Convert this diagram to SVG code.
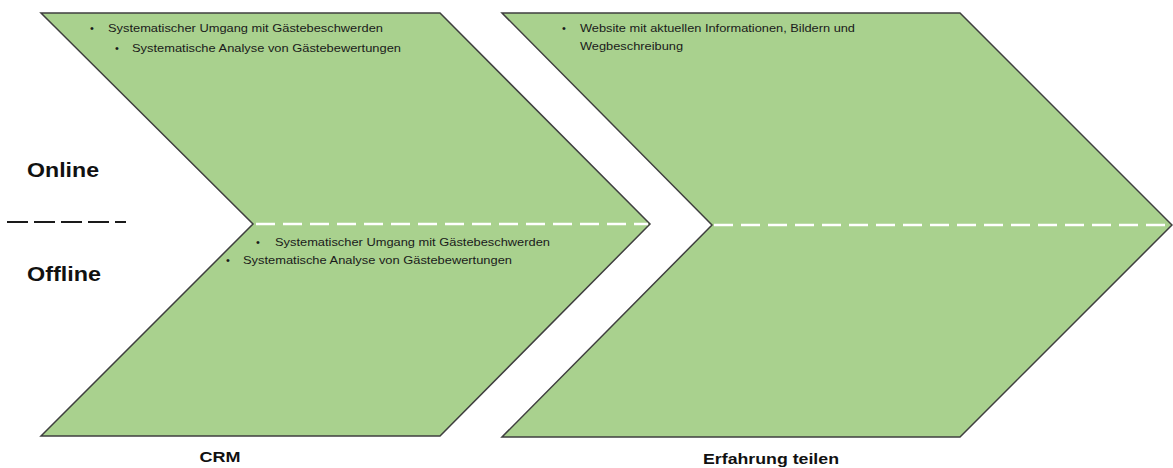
<svg xmlns="http://www.w3.org/2000/svg" width="1173" height="468" viewBox="0 0 1173 468">
<style>
.chev{fill:#A9D18E;stroke:#3f3f3f;stroke-width:1.5;stroke-linejoin:miter}
.wdash{stroke:#ffffff;stroke-width:2.5;stroke-dasharray:19 8;fill:none}
.bdash{stroke:#1a1a1a;stroke-width:2;stroke-dasharray:21 6;fill:none}
.sm{font-family:"Liberation Sans",Arial,sans-serif;font-size:11px;fill:#1a1a1a}
.big{font-family:"Liberation Sans",Arial,sans-serif;font-size:19.5px;font-weight:bold;fill:#111}
.lbl{font-family:"Liberation Sans",Arial,sans-serif;font-size:15px;font-weight:bold;fill:#111}
</style>
<g id="crm">
<polygon class="chev" points="41,13 440,13 650,224 440,436 41,436 253,224"/>
<text class="sm" x="90" y="32">•</text>
<text class="sm" x="108" y="32" textLength="275" lengthAdjust="spacingAndGlyphs">Systematischer Umgang mit Gästebeschwerden</text>
<text class="sm" x="115" y="52">•</text>
<text class="sm" x="132" y="52" textLength="269" lengthAdjust="spacingAndGlyphs">Systematische Analyse von Gästebewertungen</text>
<text class="sm" x="256" y="246">•</text>
<text class="sm" x="275" y="246" textLength="275" lengthAdjust="spacingAndGlyphs">Systematischer Umgang mit Gästebeschwerden</text>
<text class="sm" x="226" y="264">•</text>
<text class="sm" x="243" y="264" textLength="269" lengthAdjust="spacingAndGlyphs">Systematische Analyse von Gästebewertungen</text>
<text class="lbl" x="220" y="462" text-anchor="middle" textLength="41" lengthAdjust="spacingAndGlyphs">CRM</text>
</g>
<g id="erfahrung">
<polygon class="chev" points="502,13 960,13 1172,225 960,437 502,437 712,225"/>
<text class="sm" x="562" y="32">•</text>
<text class="sm" x="580" y="32" textLength="275" lengthAdjust="spacingAndGlyphs">Website mit aktuellen Informationen, Bildern und</text>
<text class="sm" x="580" y="50" textLength="103" lengthAdjust="spacingAndGlyphs">Wegbeschreibung</text>
<text class="lbl" x="771" y="464" text-anchor="middle" textLength="136" lengthAdjust="spacingAndGlyphs">Erfahrung teilen</text>
</g>
<g id="labels">
<text class="big" x="27" y="177" textLength="72" lengthAdjust="spacingAndGlyphs">Online</text>
<text class="big" x="27" y="281" textLength="74" lengthAdjust="spacingAndGlyphs">Offline</text>
</g>
<g id="connectors">
<line class="wdash" x1="256" y1="224" x2="648" y2="224"/>
<line class="wdash" x1="714" y1="225" x2="1172" y2="225"/>
<line class="bdash" x1="7" y1="222" x2="126" y2="222"/>
</g>
</svg>
